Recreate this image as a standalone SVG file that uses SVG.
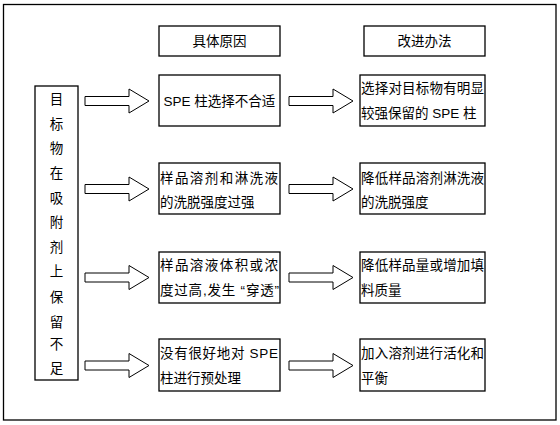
<svg xmlns="http://www.w3.org/2000/svg" width="560" height="425" viewBox="0 0 560 425">
<defs>
<style>
.box{fill:#fff;stroke:#000;stroke-width:1.3}
.arr{fill:#fff;stroke:#000;stroke-width:1}
text{font-family:"Liberation Sans","Noto Sans CJK SC",sans-serif;font-size:13.5px;fill:#000}
.c{text-anchor:middle}
</style>
<path id="arrow" d="M0,-4.5 H44 V-12 L64,0 L44,12 V4.5 H0 Z"/>
</defs>
<rect x="0" y="0" width="560" height="425" fill="#fff"/>
<rect x="3.5" y="4.5" width="552.5" height="415.5" fill="#fff" stroke="#000" stroke-width="1.3"/>

<g id="header-cause">
<rect class="box" x="159" y="26" width="121" height="30"/>
<text class="c" x="219.5" y="46">具体原因</text>
</g>
<g id="header-method">
<rect class="box" x="364" y="26" width="121" height="30"/>
<text class="c" x="424.5" y="46">改进办法</text>
</g>

<g id="problem">
<rect class="box" x="35" y="86" width="43" height="294"/>
<text class="c" x="56.5" y="104">目</text>
<text class="c" x="56.5" y="129">标</text>
<text class="c" x="56.5" y="153">物</text>
<text class="c" x="56.5" y="178">在</text>
<text class="c" x="56.5" y="203">吸</text>
<text class="c" x="56.5" y="227">附</text>
<text class="c" x="56.5" y="252">剂</text>
<text class="c" x="56.5" y="276">上</text>
<text class="c" x="56.5" y="302">保</text>
<text class="c" x="56.5" y="327">留</text>
<text class="c" x="56.5" y="349">不</text>
<text class="c" x="56.5" y="373">足</text>
</g>

<g id="cause1">
<rect class="box" x="159" y="75" width="121" height="51"/>
<text class="c" x="219.5" y="106">SPE 柱选择不合适</text>
</g>
<g id="cause2">
<rect class="box" x="159" y="163" width="121" height="51"/>
<text x="160" y="183" textLength="118" lengthAdjust="spacing">样品溶剂和淋洗液</text>
<text x="160" y="207">的洗脱强度过强</text>
</g>
<g id="cause3">
<rect class="box" x="159" y="252" width="121" height="51"/>
<text x="160" y="270" textLength="118" lengthAdjust="spacing">样品溶液体积或浓</text>
<text x="160" y="295" textLength="119" lengthAdjust="spacing">度过高,发生 “穿透”</text>
</g>
<g id="cause4">
<rect class="box" x="159" y="339" width="121" height="52"/>
<text x="160" y="358" textLength="118" lengthAdjust="spacing">没有很好地对 SPE</text>
<text x="160" y="383">柱进行预处理</text>
</g>

<g id="method1">
<rect class="box" x="360" y="75" width="125" height="51"/>
<text x="361" y="93" textLength="123" lengthAdjust="spacing">选择对目标物有明显</text>
<text x="361" y="118">较强保留的 SPE 柱</text>
</g>
<g id="method2">
<rect class="box" x="360" y="163" width="125" height="51"/>
<text x="361" y="183" textLength="123" lengthAdjust="spacing">降低样品溶剂淋洗液</text>
<text x="361" y="207">的洗脱强度</text>
</g>
<g id="method3">
<rect class="box" x="360" y="252" width="125" height="51"/>
<text x="361" y="270" textLength="123" lengthAdjust="spacing">降低样品量或增加填</text>
<text x="361" y="295">料质量</text>
</g>
<g id="method4">
<rect class="box" x="360" y="339" width="125" height="52"/>
<text x="361" y="358" textLength="123" lengthAdjust="spacing">加入溶剂进行活化和</text>
<text x="361" y="383">平衡</text>
</g>

<g id="connectors">
<use href="#arrow" class="arr" transform="translate(85,101)"/>
<use href="#arrow" class="arr" transform="translate(85,189)"/>
<use href="#arrow" class="arr" transform="translate(85,277.5)"/>
<use href="#arrow" class="arr" transform="translate(85,365.5)"/>
<use href="#arrow" class="arr" transform="translate(289,101)"/>
<use href="#arrow" class="arr" transform="translate(289,189)"/>
<use href="#arrow" class="arr" transform="translate(289,277.5)"/>
<use href="#arrow" class="arr" transform="translate(289,365.5)"/>
</g>
</svg>
